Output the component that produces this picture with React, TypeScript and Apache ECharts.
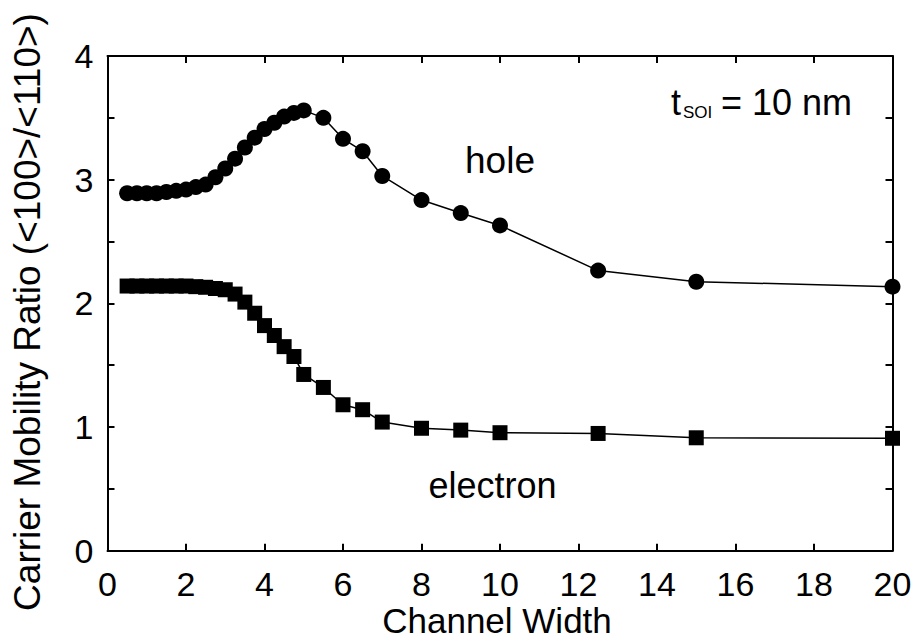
import React, { useEffect, useRef } from "react";
import * as echarts from "echarts";

const holeX = [0.5, 0.75, 1, 1.25, 1.5, 1.75, 2, 2.25, 2.5, 2.75, 3, 3.25, 3.5, 3.75, 4, 4.25, 4.5, 4.75, 5, 5.5, 6, 6.5, 7, 8, 9, 10, 12.5, 15, 20];
const holeY = [2.89, 2.89, 2.89, 2.89, 2.9, 2.91, 2.92, 2.94, 2.96, 3.02, 3.09, 3.17, 3.26, 3.34, 3.41, 3.46, 3.51, 3.54, 3.56, 3.5, 3.33, 3.23, 3.03, 2.835, 2.73, 2.63, 2.265, 2.175, 2.135];

const electronX = [0.5, 0.75, 1, 1.25, 1.5, 1.75, 2, 2.25, 2.5, 2.75, 3, 3.25, 3.5, 3.75, 4, 4.25, 4.5, 4.75, 5, 5.5, 6, 6.5, 7, 8, 9, 10, 12.5, 15, 20];
const electronY = [2.14, 2.14, 2.14, 2.14, 2.14, 2.14, 2.14, 2.135, 2.13, 2.12, 2.11, 2.075, 2.01, 1.92, 1.82, 1.74, 1.65, 1.57, 1.425, 1.32, 1.18, 1.14, 1.04, 0.99, 0.975, 0.954, 0.948, 0.913, 0.909];

const xTitle = "Channel Width";
const yTitle = "Carrier Mobility Ratio (<100>/<110>)";
const holeLabel = "hole";
const electronLabel = "electron";

const FONT = "'Liberation Sans', Arial, Helvetica, sans-serif";

export default function App() {
  const ref = useRef<HTMLDivElement>(null);

  useEffect(() => {
    if (!ref.current) return;
    const chart = echarts.init(ref.current, undefined, { renderer: "svg" });
    const axisLine = { show: true, onZero: false, lineStyle: { color: "#000", width: 2 } };
    const axisTick = { show: true, inside: true, length: 7, lineStyle: { color: "#000", width: 2 } };
    const textStyle = { fontFamily: FONT, color: "#000" };

    chart.setOption({
      animation: false,
      backgroundColor: "#fff",
      grid: { left: 107.5, right: 20.5, top: 56, bottom: 91.3, containLabel: false, outerBoundsMode: "none" },
      xAxis: [
        {
          type: "value",
          min: 0,
          max: 20,
          interval: 2,
          position: "bottom",
          axisLine,
          axisTick,
          splitLine: { show: false },
          axisLabel: { ...textStyle, fontSize: 34, margin: 16 },
        },
        {
          type: "value",
          min: 0,
          max: 20,
          interval: 2,
          position: "top",
          axisLine,
          axisTick,
          splitLine: { show: false },
          axisLabel: { show: false },
        },
      ],
      yAxis: [
        {
          type: "value",
          min: 0,
          max: 4,
          interval: 0.5,
          position: "left",
          axisLine,
          axisTick,
          splitLine: { show: false },
          axisLabel: {
            ...textStyle,
            fontSize: 34,
            margin: 14,
            formatter: (v: number) => (Number.isInteger(v) ? String(v) : ""),
          },
        },
        {
          type: "value",
          min: 0,
          max: 4,
          interval: 0.5,
          position: "right",
          axisLine,
          axisTick,
          splitLine: { show: false },
          axisLabel: { show: false },
        },
      ],
      series: [
        {
          name: "hole",
          type: "line",
          data: holeX.map((x, i) => [x, holeY[i]]),
          symbol: "circle",
          symbolSize: 16,
          itemStyle: { color: "#000" },
          lineStyle: { color: "#000", width: 1.5 },
        },
        {
          name: "electron",
          type: "line",
          data: electronX.map((x, i) => [x, electronY[i]]),
          symbol: "rect",
          symbolSize: 15,
          itemStyle: { color: "#000" },
          lineStyle: { color: "#000", width: 1.5 },
        },
      ],
      graphic: [
        {
          type: "text",
          x: 497,
          y: 620,
          style: { text: xTitle, font: `35px ${FONT}`, fill: "#000", textAlign: "center", textVerticalAlign: "middle" },
        },
        {
          type: "text",
          x: 27,
          y: 312,
          rotation: Math.PI / 2,
          style: { text: yTitle, font: `37px ${FONT}`, fill: "#000", textAlign: "center", textVerticalAlign: "middle" },
        },
        {
          type: "text",
          x: 465,
          y: 160,
          style: { text: holeLabel, font: `37px ${FONT}`, fill: "#000", textAlign: "left", textVerticalAlign: "middle" },
        },
        {
          type: "text",
          x: 428.5,
          y: 485.5,
          style: { text: electronLabel, font: `36px ${FONT}`, fill: "#000", textAlign: "left", textVerticalAlign: "middle" },
        },
        {
          type: "text",
          x: 671,
          y: 102.5,
          style: { text: "t", font: `36px ${FONT}`, fill: "#000", textAlign: "left", textVerticalAlign: "middle" },
        },
        {
          type: "text",
          x: 683,
          y: 112,
          style: { text: "SOI", font: `17px ${FONT}`, fill: "#000", textAlign: "left", textVerticalAlign: "middle" },
        },
        {
          type: "text",
          x: 721,
          y: 102.5,
          style: { text: "= 10 nm", font: `36px ${FONT}`, fill: "#000", textAlign: "left", textVerticalAlign: "middle" },
        },
      ],
    });
    return () => chart.dispose();
  }, []);

  return (
    <div
      ref={ref}
      style={{ position: "fixed", left: 0, top: 0, width: 913, height: 642, background: "#fff" }}
    />
  );
}
